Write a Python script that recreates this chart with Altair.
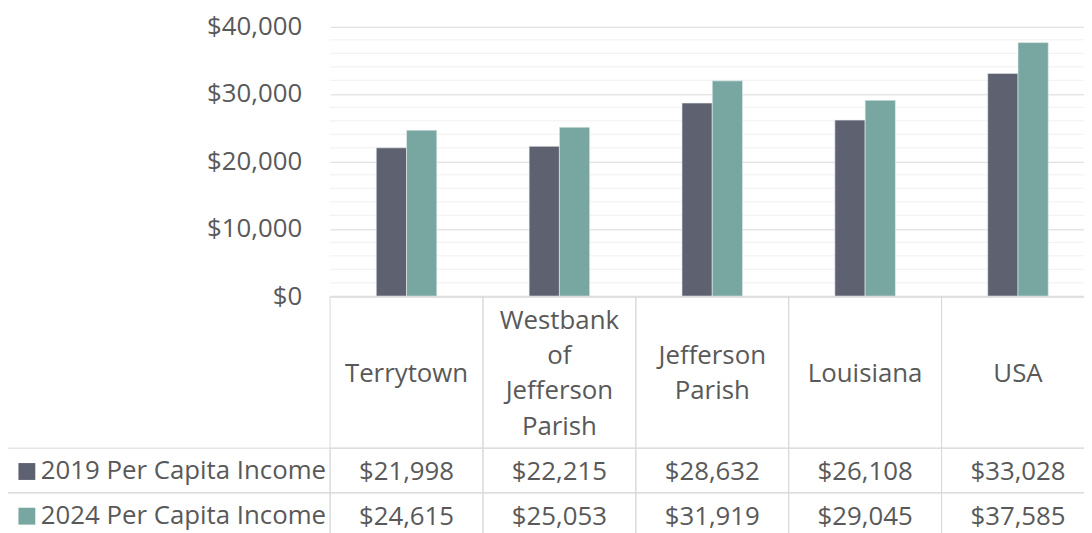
import altair as alt
import pandas as pd

categories = ["Terrytown", "Westbank of Jefferson Parish", "Jefferson Parish", "Louisiana", "USA"]
header_lines = [["Terrytown"], ["Westbank", "of", "Jefferson", "Parish"], ["Jefferson", "Parish"],
                ["Louisiana"], ["USA"]]
series = ["2019 Per Capita Income", "2024 Per Capita Income"]
income_2019 = [21998, 22215, 28632, 26108, 33028]
income_2024 = [24615, 25053, 31919, 29045, 37585]
major_ticks = [0, 10000, 20000, 30000, 40000]
minor_ticks = [2000, 4000, 6000, 8000, 12000, 14000, 16000, 18000,
               22000, 24000, 26000, 28000, 32000, 34000, 36000, 38000]
colors = ["#5E6170", "#78A7A1"]

FONT = "Open Sans"
FS = 26
TXT = "#595959"
LINE = "#d9d9d9"

rows = []
for c, a, b in zip(categories, income_2019, income_2024):
    rows.append({"category": c, "series": series[0], "value": a, "label": f"${a:,}"})
    rows.append({"category": c, "series": series[1], "value": b, "label": f"${b:,}"})
df = pd.DataFrame(rows)

hdr_rows = []
for c, lines in zip(categories, header_lines):
    n = len(lines)
    for k, t in enumerate(lines):
        hdr_rows.append({"category": c, "text": t, "line": k - (n - 1) / 2, "row": "header"})
hdr_text_df = pd.DataFrame(hdr_rows)
hdr = pd.DataFrame({"category": categories, "row": ["header"] * len(categories)})
minor = pd.DataFrame({"v": minor_ticks})
lab = pd.DataFrame({"col": ["label", "label"], "series": series})

xscale = alt.Scale(domain=categories, range=[0.5, 770.5], paddingInner=0, paddingOuter=0)
yscale = alt.Scale(domain=[0, 40000], range=[288.5, 16.5], nice=False)
hscale = alt.Scale(domain=["header"], range=[288.5, 441.5], paddingInner=0, paddingOuter=0)
lnscale = alt.Scale(domain=[-1, 1], range=[364.5 - 35.7, 364.5 + 35.7], zero=False, nice=False)
rscale = alt.Scale(domain=series, range=[441.5, 531.5], paddingInner=0, paddingOuter=0)
lscale = alt.Scale(domain=["label"], range=[-324.5, 0.5], paddingInner=0, paddingOuter=0)

X = alt.X("category:N", scale=xscale, axis=None, sort=categories)

minor_layer = alt.Chart(minor).mark_rule(color="#f0f0f0", strokeWidth=1).encode(
    y=alt.Y("v:Q", scale=yscale, axis=None)
)

bars = alt.Chart(df).mark_bar(stroke="#e8eeee", strokeWidth=0.6).encode(
    x=X,
    xOffset=alt.XOffset("series:N", scale=alt.Scale(domain=series, range=[46.5, 107.5],
                                                    paddingInner=0, paddingOuter=0)),
    y=alt.Y("value:Q", scale=yscale,
            axis=alt.Axis(values=major_ticks, format="$,.0f", grid=True, gridColor=LINE,
                          domain=False, ticks=False, labelPadding=28, labelFontSize=FS,
                          labelColor=TXT, labelFont=FONT, title=None)),
    color=alt.Color("series:N", scale=alt.Scale(domain=series, range=colors), title=None,
                    legend=alt.Legend(orient="none", legendX=-318, legendY=452, symbolType="square",
                                      symbolSize=289, symbolStrokeWidth=0, labelFontSize=FS,
                                      labelFont=FONT, labelColor=TXT, labelOffset=1, rowPadding=19,
                                      padding=0, labelLimit=400)),
)

hdr_cells = alt.Chart(hdr).mark_rect(fill="white", fillOpacity=0, stroke=LINE, strokeWidth=1).encode(
    x=X, y=alt.Y("row:N", scale=hscale, axis=None)
)
hdr_text = alt.Chart(hdr_text_df).mark_text(font=FONT, fontSize=FS, color=TXT, baseline="middle",
                                             dy=2).encode(
    x=X, y=alt.Y("line:Q", scale=lnscale, axis=None), text="text:N"
)

val_cells = alt.Chart(df).mark_rect(fill="white", fillOpacity=0, stroke=LINE, strokeWidth=1).encode(
    x=X, y=alt.Y("series:N", scale=rscale, axis=None)
)
val_text = alt.Chart(df).mark_text(font=FONT, fontSize=FS, color=TXT, baseline="middle", dy=2).encode(
    x=X, y=alt.Y("series:N", scale=rscale, axis=None), text="label:N"
)
lab_cells = alt.Chart(lab).mark_rect(fill="white", fillOpacity=0, stroke=LINE, strokeWidth=1).encode(
    x=alt.X("col:N", scale=lscale, axis=None), y=alt.Y("series:N", scale=rscale, axis=None)
)

chart = alt.layer(minor_layer, bars, hdr_cells, hdr_text, val_cells, val_text, lab_cells).resolve_scale(
    x="independent", y="independent"
).properties(
    width=760, height=525,
    padding={"left": 324, "top": 0, "right": 0, "bottom": 0},
    autosize=alt.AutoSizeParams(type="none"),
).configure_view(strokeWidth=0)

chart.save("out.html", embed_options={"renderer": "svg", "actions": False})
